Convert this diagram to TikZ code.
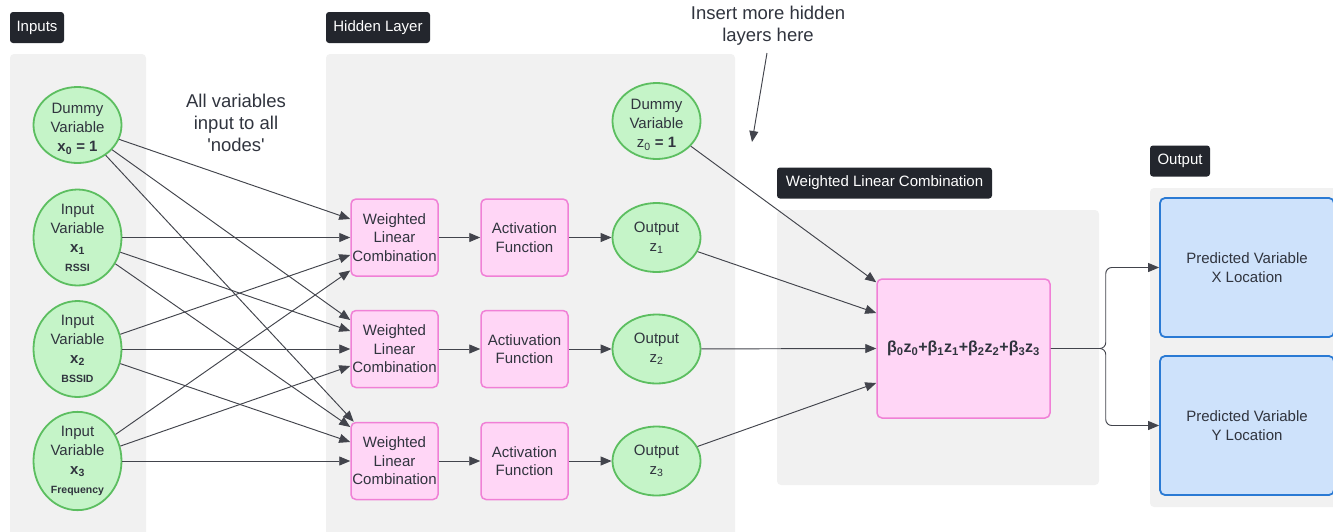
\documentclass[tikz,border=0pt]{standalone}
\usepackage{fontspec}
\setmainfont{Liberation Sans}
\usetikzlibrary{arrows.meta,shapes.geometric,calc}

\definecolor{panelgray}{RGB}{241,241,241}
\definecolor{tagdark}{RGB}{35,38,45}
\definecolor{inkgray}{RGB}{48,52,62}
\definecolor{wirecol}{RGB}{66,68,76}
\definecolor{greenfill}{RGB}{197,244,200}
\definecolor{greenline}{RGB}{92,190,96}
\definecolor{pinkfill}{RGB}{255,214,246}
\definecolor{pinkline}{RGB}{240,128,214}
\definecolor{bluefill}{RGB}{206,226,251}
\definecolor{blueline}{RGB}{42,122,212}

\newcommand\fs[2]{\fontsize{#1}{#2}\selectfont}
\newcommand\sublabel[1]{{\fs{10.5}{12}\textbf{#1}}}
% a taller first line nudges a centred text block downwards
\newcommand\topgap{\rule{0pt}{18pt}}

\begin{document}
\begin{tikzpicture}[x=1pt,y=-1pt,
  panel/.style={fill=panelgray,rounded corners=4pt},
  tag/.style={fill=tagdark,text=white,rounded corners=3pt,inner sep=0pt,
    minimum height=31pt,font=\fs{15}{18}},
  note/.style={text=inkgray,align=center,font=\fs{18.5}{22}},
  bubble/.style={ellipse,fill=greenfill,draw=greenline,line width=1.8pt,
    inner sep=0pt,minimum width=88pt,text=inkgray,align=center,font=\fs{15}{19}},
  inbubble/.style={bubble,minimum height=96pt},
  dummybubble/.style={bubble,minimum height=76pt,inner ysep=-6pt},
  outbubble/.style={bubble,minimum height=69pt},
  pinkbox/.style={rectangle,rounded corners=5pt,fill=pinkfill,draw=pinkline,
    line width=1.5pt,inner sep=0pt,minimum width=87pt,minimum height=77pt,
    text=inkgray,align=center,font=\fs{15}{18.5}},
  bluebox/.style={rectangle,rounded corners=5pt,fill=bluefill,draw=blueline,
    line width=1.8pt,inner sep=0pt,minimum width=174pt,minimum height=139pt,
    text=inkgray,align=center,font=\fs{15}{19}},
  wire/.style={draw=wirecol,line width=0.95pt,
    -{Triangle[length=11pt,width=9pt]}},
]
\useasboundingbox (0,0) rectangle (1333,531);
\clip (0,0) rectangle (1333,531);

% background panels
\fill[panel] (10,54) rectangle (146,545);
\fill[panel] (326,54) rectangle (735,545);
\fill[panel] (777,210) rectangle (1099,485);
\fill[panel] (1150,188) rectangle (1345,507);

% panel tags
\node[tag,minimum width=54pt]  (tagin)  at (37,27.5)   {Inputs};
\node[tag,minimum width=104pt] (taghid) at (378,27.5)  {Hidden Layer};
\node[tag,minimum width=215pt] (tagwlc) at (884.5,183) {Weighted Linear Combination};
\node[tag,minimum width=60pt]  (tagout) at (1180,161)  {Output};

% free notes
\node[note] (allnote) at (236,123) {All variables\\input to all\\\textquotesingle nodes\textquotesingle};
\node[note] (insert) at (768,26) {Insert more hidden\\layers here};
\coordinate (hint) at (752,142);
\draw[wire] (767,53) -- (hint);

% input layer
\node[dummybubble] (x0) at (77.5,125) {\topgap Dummy\\Variable\\\textbf{x\textsubscript{0} = 1}};
\node[inbubble] (x1) at (77.5,237.5) {Input\\Variable\\\textbf{x\textsubscript{1}}\\\sublabel{RSSI}};
\node[inbubble] (x2) at (77.5,349) {Input\\Variable\\\textbf{x\textsubscript{2}}\\\sublabel{BSSID}};
\node[inbubble] (x3) at (77.5,461) {Input\\Variable\\\textbf{x\textsubscript{3}}\\\sublabel{Frequency}};

% hidden layer
\node[pinkbox] (w1) at (394.5,237.5) {Weighted\\Linear\\Combination};
\node[pinkbox] (w2) at (394.5,349)   {Weighted\\Linear\\Combination};
\node[pinkbox] (w3) at (394.5,461)   {Weighted\\Linear\\Combination};
\node[pinkbox] (a1) at (524.5,237.5) {Activation\\Function};
\node[pinkbox] (a2) at (524.5,349)   {Actiuvation\\Function};
\node[pinkbox] (a3) at (524.5,461)   {Activation\\Function};
\node[dummybubble] (z0) at (656.5,121) {\topgap Dummy\\Variable\\z\textsubscript{0} \textbf{= 1}};
\node[outbubble] (o1) at (656.5,237.5) {Output\\z\textsubscript{1}};
\node[outbubble] (o2) at (656.5,349)   {Output\\z\textsubscript{2}};
\node[outbubble] (o3) at (656.5,461)   {Output\\z\textsubscript{3}};

% weighted linear combination
\node[pinkbox,minimum width=173pt,minimum height=139pt,font=\fs{16}{19}] (fin) at (963.5,348.5)
  {\textbf{β\textsubscript{0}z\textsubscript{0}+β\textsubscript{1}z\textsubscript{1}+β\textsubscript{2}z\textsubscript{2}+β\textsubscript{3}z\textsubscript{3}}};

% output layer
\node[bluebox] (px) at (1247,267.5) {Predicted Variable\\X Location};
\node[bluebox] (py) at (1247,425.5) {Predicted Variable\\Y Location};

% every input feeds every weighted combination
\draw[wire] (x0) -- ($(w1.west)+(0,-18.5)$);
\draw[wire] (x1) -- (w1.west);
\draw[wire] (x2) -- ($(w1.west)+(0,17.5)$);
\draw[wire] (x3) -- ($(w1.west)+(0,33)$);

\draw[wire] (x0) -- ($(w2.west)+(0,-29)$);
\draw[wire] (x1) -- ($(w2.west)+(0,-18)$);
\draw[wire] (x2) -- (w2.west);
\draw[wire] (x3) -- ($(w2.west)+(0,17)$);

\draw[wire] (x0) -- ($(w3.north west)+(3.5,0)$);
\draw[wire] (x1) -- ($(w3.west)+(0,-34)$);
\draw[wire] (x2) -- ($(w3.west)+(0,-19)$);
\draw[wire] (x3) -- (w3.west);

% hidden units
\foreach \i in {1,2,3}{
  \draw[wire] (w\i) -- (a\i);
  \draw[wire] (a\i) -- (o\i);
}

% hidden outputs into the final combination
\draw[wire] (z0) -- ($(fin.north west)+(0,4)$);
\draw[wire] (o1) -- ($(fin.west)+(0,-35.5)$);
\draw[wire] (o2) -- (fin.west);
\draw[wire] (o3) -- ($(fin.west)+(0,34.5)$);

% split to the two predictions
\coordinate (split) at ($(fin.east)+(55,0)$);
\draw[wire,rounded corners=6pt] (fin.east) -- (split) |- (px.west);
\draw[wire,rounded corners=6pt] (fin.east) -- (split) |- (py.west);
\end{tikzpicture}
\end{document}
